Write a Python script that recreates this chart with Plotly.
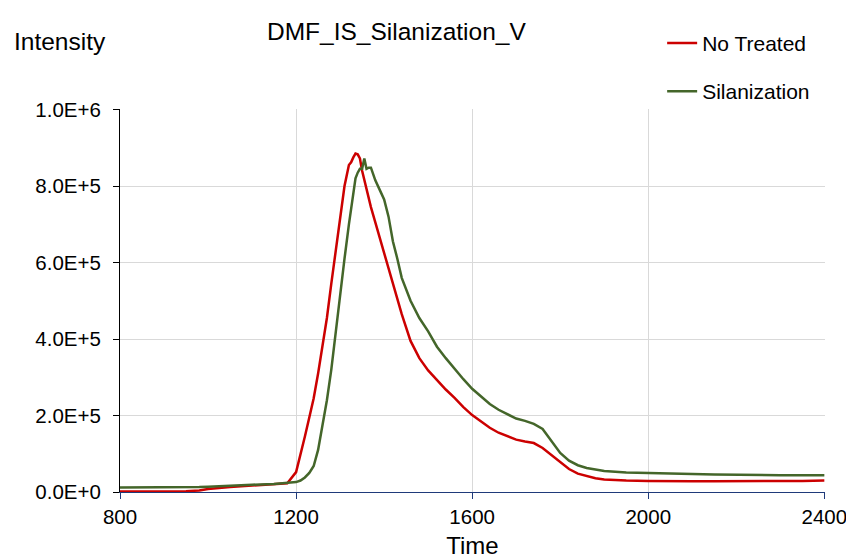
import plotly.graph_objects as go

# Chromatogram data (time, intensity)
time = [800, 850, 900, 950, 980, 1000, 1050, 1100, 1150, 1180, 1200, 1210, 1220, 1230,
        1240, 1250, 1260, 1270, 1280, 1290, 1300, 1310, 1320, 1325, 1330, 1335, 1340,
        1345, 1350, 1355, 1360, 1365, 1370, 1380, 1390, 1400, 1410, 1420, 1430, 1440,
        1460, 1480, 1500, 1520, 1540, 1560, 1580, 1600, 1620, 1640, 1660, 1680, 1700,
        1720, 1740, 1760, 1780, 1800, 1820, 1840, 1860, 1880, 1900, 1950, 2000, 2050,
        2100, 2150, 2200, 2250, 2300, 2350, 2400]

no_treated = [1000, 1000, 1000, 2000, 4000, 8000, 13000, 17000, 20000, 23000, 52000,
              95000, 145000, 195000, 245000, 310000, 380000, 455000, 545000, 630000,
              710000, 800000, 855000, 862000, 875000, 885000, 883000, 872000, 840000,
              815000, 795000, 770000, 745000, 705000, 665000, 625000, 585000, 540000,
              500000, 465000, 395000, 350000, 318000, 292000, 268000, 246000, 222000,
              201000, 184000, 168000, 155000, 145000, 137000, 132000, 128000, 115000,
              97000, 78000, 60000, 48000, 41000, 36000, 33000, 30000, 29000, 28000,
              28000, 28000, 28000, 28000, 28500, 29000, 30000]

silanization = [12000, 12000, 12000, 12000, 13000, 14000, 17000, 19000, 21000, 23000,
                26000, 30000, 38000, 50000, 68000, 110000, 170000, 240000, 320000,
                420000, 510000, 610000, 700000, 745000, 790000, 820000, 835000, 845000,
                845000, 872000, 845000, 848000, 848000, 815000, 790000, 765000, 720000,
                655000, 610000, 560000, 500000, 455000, 420000, 380000, 350000, 322000,
                295000, 270000, 250000, 230000, 215000, 203000, 192000, 186000, 178000,
                165000, 135000, 102000, 82000, 70000, 63000, 58000, 55000, 51000, 49000,
                48000, 47000, 46000, 45000, 45000, 44000, 44000, 44000]

x_ticks = [800, 1200, 1600, 2000, 2400]
y_ticks = [0, 200000, 400000, 600000, 800000, 1000000]
y_tick_labels = ["0.0E+0", "2.0E+5", "4.0E+5", "6.0E+5", "8.0E+5", "1.0E+6"]

FONT = "Liberation Sans, Arial, sans-serif"

fig = go.Figure()
fig.add_trace(go.Scatter(x=time, y=no_treated, mode="lines", name="No Treated",
                         legendgroup="a", line=dict(color="#cc0000", width=2.5)))
fig.add_trace(go.Scatter(x=time, y=silanization, mode="lines", name="Silanization",
                         legendgroup="b", line=dict(color="#44662a", width=2.5)))

fig.update_layout(
    width=846, height=559,
    margin=dict(l=120, r=21, t=109, b=67),
    paper_bgcolor="white", plot_bgcolor="white",
    font=dict(family=FONT, color="black", size=20),
    showlegend=True,
    legend=dict(x=0.769, y=1.225, xanchor="left", yanchor="top",
                traceorder="grouped", tracegroupgap=18,
                font=dict(size=21), bgcolor="rgba(0,0,0,0)"),
    # ranges padded a hair so the end gridlines at 2400 and 1.0E+6 stay visible
    xaxis=dict(range=[800, 2401.5], tickvals=x_ticks, showgrid=True,
               gridcolor="#d9d9d9", gridwidth=1, showline=True, linecolor="#1f3a7a",
               linewidth=1, ticks="outside", ticklen=6, tickcolor="#1f3a7a",
               zeroline=False, tickfont=dict(size=20.5), ticklabeloverflow="allow",
               automargin=False,
               title=dict(text="Time", font=dict(size=24), standoff=14)),
    yaxis=dict(range=[0, 1001500], tickvals=y_ticks, ticktext=y_tick_labels,
               showgrid=True, gridcolor="#d9d9d9", gridwidth=1, showline=True,
               linecolor="black", linewidth=1, ticks="outside", ticklen=6,
               tickcolor="black", zeroline=False, tickfont=dict(size=20.5),
               ticklabelstandoff=8, automargin=False),
    annotations=[
        dict(text="DMF_IS_Silanization_V", xref="paper", yref="paper",
             x=(396 - 120) / 705, y=(492 - 31) / 383, xanchor="center",
             yanchor="middle", showarrow=False, font=dict(size=24.5)),
        dict(text="Intensity", xref="paper", yref="paper",
             x=-108 / 705, y=(492 - 42) / 383, xanchor="left",
             yanchor="middle", showarrow=False, font=dict(size=24.5)),
    ],
)

fig.write_html("out.html")
